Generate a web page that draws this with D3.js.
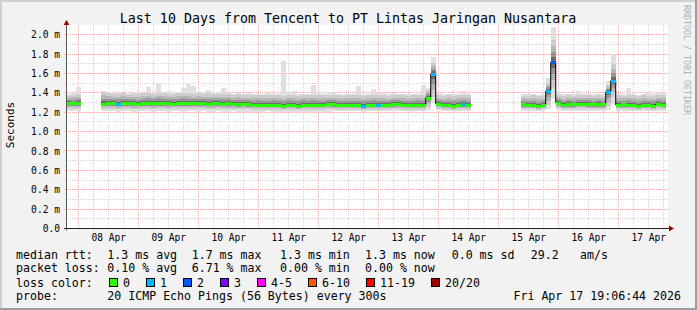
<!DOCTYPE html>
<html><head><meta charset="utf-8">
<script src="https://cdn.jsdelivr.net/npm/d3@7"></script>
<style>
html,body{margin:0;padding:0;background:#f2f2f2;}
svg{display:block;}
text{font-family:"DejaVu Sans Mono",monospace;}
</style>
</head><body>
<svg id="c" width="697" height="310"></svg>
<script>
// ---------------- DATA ----------------
const title = "Last 10 Days from Tencent to PT Lintas Jaringan Nusantara";
const yTicks = [0, 0.2, 0.4, 0.6, 0.8, 1.0, 1.2, 1.4, 1.6, 1.8, 2.0];
const yTickLabels = ["0.0", "0.2 m", "0.4 m", "0.6 m", "0.8 m", "1.0 m", "1.2 m", "1.4 m", "1.6 m", "1.8 m", "2.0 m"];
const xTickLabels = ["08 Apr", "09 Apr", "10 Apr", "11 Apr", "12 Apr", "13 Apr", "14 Apr", "15 Apr", "16 Apr", "17 Apr"];
const rangeStart = "2026-04-07T19:06:44Z";
const rangeEnd = "2026-04-17T19:06:44Z";
const firstSample = "2026-04-07T20:00:00Z"; // one sample every 2 hours
const stepHours = 2;

// median round-trip time (ms), null = no data
const median = [
 1.295,1.29,1.295, null,null,null,null,
 1.285,1.29,1.29,1.285,1.29,1.295,1.29,1.28,1.29,1.295,
 1.29,1.295,1.29,1.29,1.285,1.29,1.295,1.29,1.29,1.295,
 1.29,1.285,1.29,1.29,1.285,1.29,1.285,1.28,1.285,1.28,
 1.275,1.275,1.275,1.275,1.275,1.27,1.265,1.275,1.275,1.265,
 1.275,1.275,1.275,1.275,1.27,1.285,1.28,1.275,1.275,1.275,
 1.275,1.27,1.265,1.275,1.275,1.275,1.275,1.275,1.28,1.285,
 1.275,1.275,1.275,1.275,1.275,1.35,1.595,1.285,1.275,1.275,
 1.265,1.27,1.28,1.275,
 null,null,null,null,null,null,null,null,null,null,
 1.28,1.275,1.275,1.265,1.275,1.42,1.715,1.30,1.275,1.28,
 1.28,1.285,1.285,1.28,1.28,1.28,1.28,1.41,1.525,1.275,
 1.28,1.275,1.27,1.26,1.275,1.27,1.265,1.285,1.275
];
// lost pings (of 20) per sample
const lossCount = [
 0,0,0, null,null,null,null,
 0,0,0,1,0,0,0,0,0,0,
 0,0,0,0,0,0,0,0,0,0,
 0,0,0,0,0,0,0,0,0,0,
 0,0,0,0,0,0,0,0,0,0,
 0,0,0,0,0,0,0,0,0,0,
 0,0,1,0,0,1,0,0,0,0,
 0,0,0,0,0,0,1,0,0,0,
 0,0,1,0,
 null,null,null,null,null,null,null,null,null,null,
 0,0,0,0,0,1,2,0,0,0,
 0,0,0,0,0,0,0,1,1,0,
 0,0,0,0,0,0,0,0,0
];
// smoke: lowest ping, lower body, upper body, highest ping (ms)
const smokeMin = [
 1.215,1.215,1.215, null,null,null,null,
 1.21,1.21,1.21,1.205,1.21,1.21,1.205,1.21,1.21,1.21,
 1.205,1.21,1.21,1.205,1.21,1.21,1.205,1.21,1.21,1.205,
 1.21,1.205,1.205,1.21,1.205,1.205,1.21,1.205,1.205,1.205,
 1.205,1.205,1.205,1.21,1.205,1.205,1.2,1.205,1.205,1.205,
 1.205,1.205,1.205,1.21,1.205,1.205,1.21,1.21,1.21,1.21,
 1.21,1.21,1.205,1.21,1.21,1.21,1.21,1.21,1.21,1.21,
 1.21,1.21,1.21,1.21,1.21,1.22,1.30,1.22,1.21,1.21,
 1.21,1.21,1.215,1.215,
 null,null,null,null,null,null,null,null,null,null,
 1.215,1.215,1.215,1.21,1.215,1.23,1.34,1.22,1.215,1.215,
 1.215,1.215,1.215,1.215,1.215,1.215,1.215,1.22,1.28,1.215,
 1.215,1.215,1.21,1.21,1.215,1.21,1.21,1.215,1.215
];
const smokeLow = [
 1.235,1.235,1.235, null,null,null,null,
 1.235,1.235,1.235,1.23,1.235,1.235,1.23,1.235,1.235,1.235,
 1.23,1.235,1.235,1.23,1.235,1.235,1.23,1.235,1.235,1.23,
 1.235,1.23,1.23,1.235,1.23,1.23,1.23,1.23,1.23,1.23,
 1.225,1.225,1.225,1.225,1.225,1.225,1.22,1.225,1.225,1.22,
 1.225,1.225,1.225,1.225,1.225,1.23,1.23,1.225,1.225,1.225,
 1.225,1.225,1.22,1.225,1.225,1.225,1.225,1.225,1.23,1.23,
 1.225,1.225,1.225,1.225,1.225,1.25,1.36,1.235,1.225,1.225,
 1.22,1.225,1.23,1.225,
 null,null,null,null,null,null,null,null,null,null,
 1.23,1.23,1.23,1.225,1.23,1.27,1.45,1.24,1.23,1.23,
 1.23,1.235,1.235,1.23,1.23,1.23,1.23,1.26,1.36,1.23,
 1.23,1.23,1.225,1.22,1.23,1.225,1.22,1.235,1.23
];
const smokeHigh = [
 1.37,1.38,1.39, null,null,null,null,
 1.41,1.40,1.39,1.39,1.395,1.39,1.385,1.39,1.395,1.40,
 1.39,1.40,1.395,1.39,1.39,1.395,1.40,1.395,1.39,1.395,
 1.39,1.395,1.39,1.385,1.39,1.385,1.38,1.385,1.38,1.38,
 1.375,1.38,1.375,1.375,1.38,1.375,1.37,1.38,1.375,1.37,
 1.38,1.375,1.38,1.375,1.375,1.38,1.38,1.375,1.37,1.375,
 1.375,1.38,1.37,1.375,1.38,1.375,1.375,1.37,1.375,1.38,
 1.375,1.37,1.375,1.38,1.375,1.43,1.71,1.38,1.37,1.375,
 1.37,1.375,1.38,1.375,
 null,null,null,null,null,null,null,null,null,null,
 1.37,1.37,1.375,1.365,1.37,1.50,1.95,1.38,1.37,1.375,
 1.37,1.375,1.38,1.375,1.37,1.375,1.37,1.48,1.70,1.375,
 1.37,1.38,1.375,1.365,1.375,1.37,1.37,1.38,1.375
];
const smokeMax = [
 1.39,1.40,1.46, null,null,null,null,
 1.42,1.41,1.40,1.41,1.40,1.39,1.40,1.41,1.40,1.46,
 1.40,1.50,1.41,1.42,1.40,1.41,1.45,1.49,1.47,1.41,
 1.41,1.43,1.40,1.41,1.45,1.40,1.39,1.40,1.39,1.40,
 1.39,1.39,1.39,1.40,1.39,1.39,1.73,1.41,1.42,1.39,
 1.39,1.39,1.48,1.41,1.39,1.41,1.41,1.39,1.39,1.39,
 1.39,1.475,1.39,1.39,1.44,1.40,1.41,1.39,1.40,1.39,
 1.39,1.39,1.39,1.39,1.48,1.45,1.77,1.40,1.39,1.39,
 1.39,1.39,1.42,1.39,
 null,null,null,null,null,null,null,null,null,null,
 1.39,1.39,1.39,1.38,1.39,1.55,2.08,1.42,1.39,1.39,
 1.39,1.42,1.39,1.39,1.39,1.39,1.39,1.52,1.80,1.39,
 1.39,1.445,1.39,1.38,1.39,1.41,1.39,1.40,1.41
];
const lossLegend = ["0", "1", "2", "3", "4-5", "6-10", "11-19", "20/20"];
const lossColors = ["#26ff00", "#00b8ff", "#0059ff", "#7e00ff", "#ff00ff", "#ff5500", "#ff0000", "#a10000"];
const lossUpper = [0, 1, 2, 3, 5, 10, 19, 20];
const statsRtt = ["1.3 ms avg", "1.7 ms max", "1.3 ms min", "1.3 ms now", "0.0 ms sd", "29.2", "am/s"];
const statsLoss = ["0.10 % avg", "6.71 % max", "0.00 % min", "0.00 % now"];
const probeText = "20 ICMP Echo Pings (56 Bytes) every 300s";
const stampText = "Fri Apr 17 19:06:44 2026";

// ---------------- DRAW ----------------
const svg = d3.select("#c");
const W = 697, H = 310;
const L = 66, R = 666, T = 25, B = 228.5;
const t0 = new Date(rangeStart), t1 = new Date(rangeEnd);
const x = d3.scaleUtc().domain([t0, t1]).range([L, R]);
const y = d3.scaleLinear().domain([0, 2.1]).range([B, T]);
const first = new Date(firstSample).getTime();
const HOUR = 3600e3;
const pts = median.map((m, i) => ({
  t: new Date(first + i * stepHours * HOUR),
  med: m, loss: lossCount[i],
  mn: smokeMin[i], lo: smokeLow[i], hi: smokeHigh[i], mx: smokeMax[i]
}));

// background + frame
svg.append("rect").attr("width", W).attr("height", H).attr("fill", "#f2f2f2");
svg.append("rect").attr("x", 0).attr("y", 0).attr("width", W).attr("height", 2).attr("fill", "#cfcfcf");
svg.append("rect").attr("x", 0).attr("y", 0).attr("width", 2).attr("height", H).attr("fill", "#cfcfcf");
svg.append("rect").attr("x", 0).attr("y", H - 2).attr("width", W).attr("height", 2).attr("fill", "#9e9e9e");
svg.append("rect").attr("x", W - 2).attr("y", 0).attr("width", 2).attr("height", H).attr("fill", "#9e9e9e");

// canvas
svg.append("rect").attr("x", L).attr("y", T).attr("width", R - L + 2).attr("height", B - T).attr("fill", "#ffffff");

const px = v => Math.floor(v) + 0.5;
const grid = svg.append("g");
// vertical grid
const minorV = d3.utcHour.every(6).range(t0, t1).filter(d => d.getUTCHours() !== 0);
const majorV = d3.utcDay.range(t0, t1);
grid.selectAll(".vm").data(minorV).join("line")
  .attr("x1", d => px(x(d))).attr("x2", d => px(x(d))).attr("y1", T).attr("y2", B)
  .attr("stroke", "#d6d6d6").attr("stroke-dasharray", "1,1");
// horizontal grid
const minorH = d3.range(1, 21).filter(k => k % 2 === 1).map(k => k / 10);
grid.selectAll(".hm").data(minorH).join("line")
  .attr("x1", L).attr("x2", R + 2).attr("y1", d => px(y(d))).attr("y2", d => px(y(d)))
  .attr("stroke", "#d6d6d6").attr("stroke-dasharray", "1,1");
grid.selectAll(".vM").data(majorV).join("line")
  .attr("x1", d => px(x(d))).attr("x2", d => px(x(d))).attr("y1", T).attr("y2", B)
  .attr("stroke", "#f7abab").attr("stroke-dasharray", "1,1");
grid.selectAll(".hM").data(yTicks.filter(v => v > 0)).join("line")
  .attr("x1", L - 2).attr("x2", R + 2).attr("y1", d => px(y(d))).attr("y2", d => px(y(d)))
  .attr("stroke", "#f7abab").attr("stroke-dasharray", "1,1");

// smoke
const valid = pts.filter(p => p.med != null);
const half = stepHours * HOUR / 2;
const smoke = svg.append("g").attr("shape-rendering", "crispEdges");
function band(getLo, getHi, color) {
  smoke.selectAll(null).data(valid).join("rect")
    .attr("x", d => Math.round(x(new Date(d.t - half))))
    .attr("width", d => Math.round(x(new Date(+d.t + half))) - Math.round(x(new Date(d.t - half))))
    .attr("y", d => Math.round(y(getHi(d))))
    .attr("height", d => Math.max(0, Math.round(y(getLo(d))) - Math.round(y(getHi(d)))))
    .attr("fill", color);
}
band(d => d.mn, d => d.mx, "#e0e0e0");
band(d => d.lo, d => d.hi, "#cdcdcd");
[[0.7, "#b6b6b6"], [0.45, "#979797"], [0.22, "#6c6c6c"]].forEach(([f, c]) => {
  band(d => d.med - (d.med - d.lo) * f, d => d.med + (d.hi - d.med) * f, c);
});

// median line (black) + loss coloured marks
const line = d3.line().defined(d => d.med != null)
  .x(d => x(d.t)).y(d => y(d.med)).curve(d3.curveStep);
svg.append("path").datum(pts).attr("d", line).attr("fill", "none")
  .attr("stroke", "#000").attr("stroke-width", 1);
const lossColor = n => lossColors[lossUpper.findIndex(u => n <= u)];
svg.append("g").attr("shape-rendering", "crispEdges").selectAll("rect").data(valid).join("rect")
  .attr("x", d => Math.round(x(new Date(d.t - half))))
  .attr("width", d => Math.round(x(new Date(+d.t + half))) - Math.round(x(new Date(d.t - half))))
  .attr("y", d => Math.round(y(d.med)) - 1.5).attr("height", 3)
  .attr("fill", d => lossColor(d.loss));

// axes (labels via d3 axes)
const yAxis = d3.axisLeft(y).tickValues(yTicks).tickFormat((d, i) => yTickLabels[i]).tickSize(0).tickPadding(6);
svg.append("g").attr("transform", `translate(${L},0)`).call(yAxis)
  .call(g => g.select(".domain").remove())
  .call(g => g.selectAll("text").attr("font-family", "DejaVu Sans Mono").attr("font-size", 9.6).attr("fill", "#000"));
const noon = xTickLabels.map((_, i) => new Date(Date.UTC(2026, 3, 8 + i, 12)));
const xAxis = d3.axisBottom(x).tickValues(noon).tickFormat((d, i) => xTickLabels[i]).tickSize(0).tickPadding(6);
svg.append("g").attr("transform", `translate(0,${B})`).call(xAxis)
  .call(g => g.select(".domain").remove())
  .call(g => g.selectAll("text").attr("font-family", "DejaVu Sans Mono").attr("font-size", 9.6).attr("fill", "#000"));

// axis lines with arrows
svg.append("line").attr("x1", L + 0.5).attr("x2", L + 0.5).attr("y1", B + 2).attr("y2", T - 3).attr("stroke", "#555");
svg.append("line").attr("x1", L - 2).attr("x2", R + 5).attr("y1", B).attr("y2", B).attr("stroke", "#222");
svg.append("path").attr("d", `M${L - 2.5},${T} L${L + 3.5},${T} L${L + 0.5},${T - 5} Z`).attr("fill", "#a10000");
svg.append("path").attr("d", `M${R + 3},${B - 3} L${R + 3},${B + 3} L${R + 8},${B} Z`).attr("fill", "#a10000");

// title
svg.append("text").attr("x", 348).attr("y", 23).attr("text-anchor", "middle")
  .attr("font-size", 13.3).text(title);
// y axis unit label
svg.append("text").attr("transform", "translate(14,125) rotate(-90)").attr("text-anchor", "middle")
  .attr("font-size", 11).text("Seconds");
// watermark
svg.append("text").attr("transform", "translate(683.5,5) rotate(90)")
  .attr("font-size", 8.3).attr("fill", "#b0b0b0").text("RRDTOOL / TOBI OETIKER");

// legend
const lg = svg.append("g").attr("font-size", 11.6).attr("fill", "#000").attr("xml:space", "preserve");
const rows = [258.5, 272, 286.5, 300];
lg.append("text").attr("x", 16).attr("y", rows[0]).text("median rtt:");
const rttX = [107.3, 191.7, 280, 365, 451.7, 530.7, 580];
statsRtt.forEach((s, i) => lg.append("text").attr("x", rttX[i]).attr("y", rows[0]).text(s));
lg.append("text").attr("x", 16).attr("y", rows[1]).text("packet loss:");
const lossX = [107.3, 191.7, 280, 365];
statsLoss.forEach((s, i) => lg.append("text").attr("x", lossX[i]).attr("y", rows[1]).text(s));
lg.append("text").attr("x", 16).attr("y", rows[2]).text("loss color:");
let bx = 108.5;
const cw = 7.0;
lossLegend.forEach((lab, i) => {
  lg.append("rect").attr("x", Math.round(bx) + 0.5).attr("y", 278.5).attr("width", 8).attr("height", 8)
    .attr("fill", lossColors[i]).attr("stroke", "#000");
  lg.append("text").attr("x", bx + 14.5).attr("y", rows[2]).text(lab);
  bx = bx + 14.5 + lab.length * cw + 15.5;
});
lg.append("text").attr("x", 16).attr("y", rows[3]).text("probe:");
lg.append("text").attr("x", 107.3).attr("y", rows[3]).text(probeText);
lg.append("text").attr("x", 681).attr("y", rows[3]).attr("text-anchor", "end").text(stampText);
</script>
</body></html>
